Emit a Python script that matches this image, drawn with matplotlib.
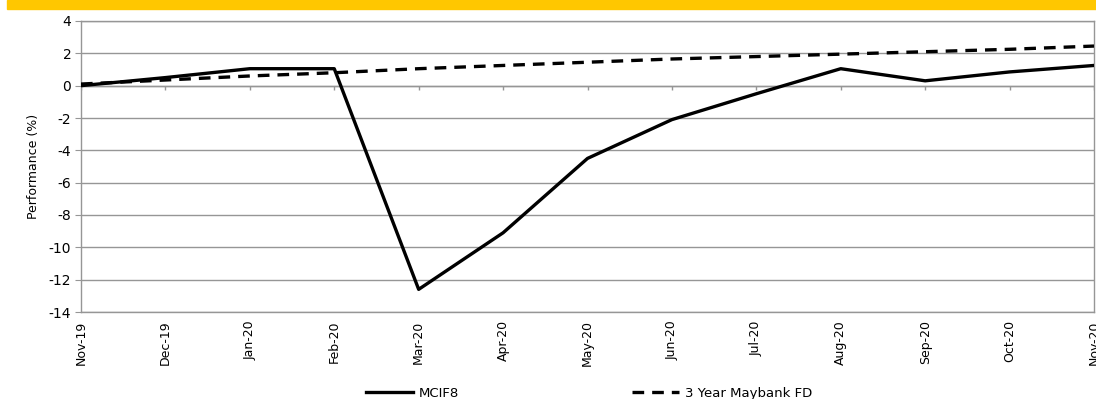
import matplotlib.pyplot as plt
import matplotlib.patches as patches
import numpy as np

plt.rcParams['axes.unicode_minus'] = False

months = ['Nov-19', 'Dec-19', 'Jan-20', 'Feb-20', 'Mar-20', 'Apr-20', 'May-20',
          'Jun-20', 'Jul-20', 'Aug-20', 'Sep-20', 'Oct-20', 'Nov-20']
mcif8 = [0.0, 0.5, 1.05, 1.05, -12.6, -9.1, -4.5, -2.1, -0.5, 1.05, 0.3, 0.85, 1.25]
fd = [0.1, 0.35, 0.6, 0.8, 1.05, 1.25, 1.45, 1.65, 1.8, 1.95, 2.1, 2.25, 2.45]

grey = '#969696'

fig = plt.figure(figsize=(10.96, 3.99), dpi=100)
# yellow band on top
fig.patches.append(patches.Rectangle((7/1096, 1-9/399), 1-7/1096, 9/399,
                                     transform=fig.transFigure, color='#FFC700', zorder=0))

ax = fig.add_axes([81/1096, 1-312/399, (1094-81)/1096, (312-21)/399])
x = np.arange(len(months))

ax.plot(x, mcif8, color='black', lw=2.4, label='MCIF8', zorder=3)
ax.plot(x, fd, color='black', lw=2.4, ls=(0, (3.5, 2.4)), label='3 Year Maybank FD', zorder=3)

ax.set_xlim(0, len(months)-1)
ax.set_ylim(-14, 4)
ax.set_yticks(np.arange(-14, 5, 2))
ax.yaxis.grid(True, color=grey, lw=1)
ax.set_axisbelow(True)

# horizontal axis at zero with small tick marks
ax.axhline(0, color=grey, lw=1, zorder=1)
ax.vlines(x, -0.27, 0, color=grey, lw=1, zorder=1)

for s in ax.spines.values():
    s.set_color(grey)
    s.set_linewidth(1)

ax.set_xticks(x)
ax.set_xticklabels(months, rotation=90, fontsize=9)
ax.tick_params(axis='x', length=0, pad=6)
ax.tick_params(axis='y', length=4, color=grey, labelsize=10, pad=3)
ax.set_ylabel('Performance (%)', fontsize=9, labelpad=6)

leg = fig.legend(loc='lower left', bbox_to_anchor=(354/1096, -0.032), ncol=2,
                 frameon=False, handlelength=3.6, handletextpad=0.4,
                 columnspacing=13.1, prop={'size': 9.5})

fig.savefig('out.png', dpi=100)
